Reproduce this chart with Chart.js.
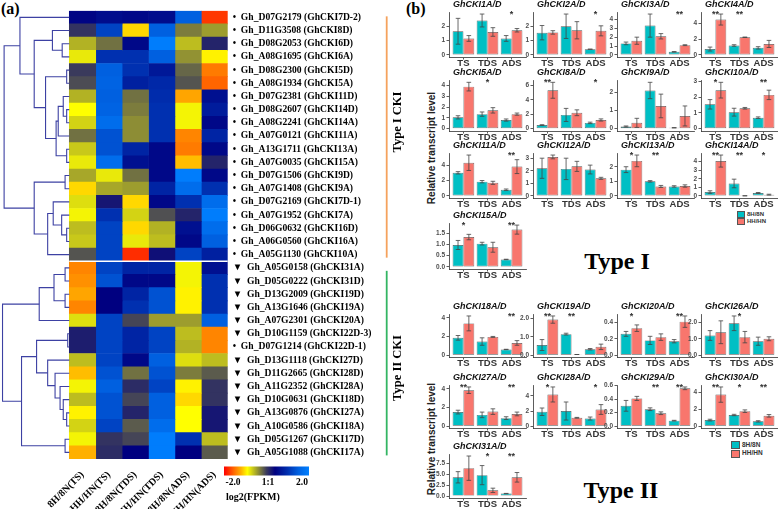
<!DOCTYPE html>
<html>
<head>
<meta charset="utf-8">
<script src="https://cdn.jsdelivr.net/npm/chart.js"></script>
<style>
  body { margin: 0; background: #fff; }
  #wrap { position: relative; width: 778px; height: 509px; overflow: hidden; background: #fff; }
  canvas { position: absolute; }
  .txt { position: absolute; white-space: nowrap; color: #000; }
  .serif { font-family: 'Liberation Serif', 'Times New Roman', serif; font-weight: bold; }
  .sans { font-family: 'Liberation Sans', Arial, sans-serif; font-weight: bold; }
  .ylab { transform: translate(-50%, -50%) rotate(-90deg); font-size: 10px; color: #222; }
  .big { transform: translate(-50%, -50%); font-size: 24px; }
  .key { position: absolute; font-family: 'Liberation Sans', Arial, sans-serif; font-weight: bold; color: #333; }
  .key span { display: inline-block; vertical-align: middle; border: 0.5px solid #555; margin-right: 2px; }
</style>
</head>
<body>
<div id="wrap">
  <div class="txt serif" style="left:1px;top:0px;font-size:16px;">(a)</div>
  <div class="txt serif" style="left:406px;top:0px;font-size:16px;">(b)</div>
  <div class="txt sans ylab" style="left:431px;top:148px;">Relative transcript level</div>
  <div class="txt sans ylab" style="left:431px;top:439px;">Relative transcript level</div>
  <div class="txt serif big" style="left:617px;top:261px;">Type I</div>
  <div class="txt serif big" style="left:621px;top:490px;">Type II</div>
  <div class="key" style="left:737px;top:211px;font-size:6px;line-height:6.5px;">
    <div><span style="width:6px;height:5px;background:#00BFC4"></span>8H/8N</div>
    <div><span style="width:6px;height:5px;background:#F8766D"></span>HH/HN</div>
  </div>
  <div class="key" style="left:731px;top:441px;font-size:6.5px;line-height:7px;">
    <div><span style="width:7px;height:6px;background:#00BFC4"></span>8H/8N</div>
    <div><span style="width:7px;height:6px;background:#F8766D"></span>HH/HN</div>
  </div>
  <canvas id="heat" width="410" height="509" style="left:0;top:0"></canvas>
</div>
<script>
const FONT_SERIF = "'Liberation Serif', 'Times New Roman', serif";
const FONT_SANS = "'Liberation Sans', Arial, sans-serif";

// ---------- (a) heatmap ----------
const sampleNames = ['8H/8N(TS)', 'HH/HN(TS)', '8H/8N(TDS)', 'HH/HN(TDS)', '8H/8N(ADS)', 'HH/HN(ADS)'];

const geneIds = [
  'Gh_D07G2179 (GhCKI7D-2)', 'Gh_D11G3508 (GhCKI8D)', 'Gh_D08G2053 (GhCKI6D)', 'Gh_A08G1695 (GhCKI6A)',
  'Gh_D08G2300 (GhCKI5D)', 'Gh_A08G1934 (GhCKI5A)', 'Gh_D07G2381 (GhCKI11D)', 'Gh_D08G2607 (GhCKI14D)',
  'Gh_A08G2241 (GhCKI14A)', 'Gh_A07G0121 (GhCKI11A)', 'Gh_A13G1711 (GhCKI13A)', 'Gh_A07G0035 (GhCKI15A)',
  'Gh_D07G1506 (GhCKI9D)', 'Gh_A07G1408 (GhCKI9A)', 'Gh_D07G2169 (GhCKI7D-1)', 'Gh_A07G1952 (GhCKI7A)',
  'Gh_D06G0632 (GhCKI16D)', 'Gh_A06G0560 (GhCKI16A)', 'Gh_A05G1130 (GhCKI10A)',
  'Gh_A05G0158 (GhCKI31A)', 'Gh_D05G0222 (GhCKI31D)', 'Gh_D13G2009 (GhCKI19D)', 'Gh_A13G1646 (GhCKI19A)',
  'Gh_A07G2301 (GhCKI20A)', 'Gh_D10G1159 (GhCKI22D-3)', 'Gh_D07G1214 (GhCKI22D-1)', 'Gh_D13G1118 (GhCKI27D)',
  'Gh_D11G2665 (GhCKI28D)', 'Gh_A11G2352 (GhCKI28A)', 'Gh_D10G0631 (GhCKI18D)', 'Gh_A13G0876 (GhCKI27A)',
  'Gh_A10G0586 (GhCKI18A)', 'Gh_D05G1267 (GhCKI17D)', 'Gh_A05G1088 (GhCKI17A)'
];

const geneMarks = [
  '•', '•', '•', '•', '•', '•', '•', '•', '•', '•', '•', '•', '•', '•', '•', '•', '•', '•', '•',
  '▼', '▼', '▼', '▼', '▼', '▼', '•', '▼', '▼', '▼', '▼', '▼', '▼', '▼', '▼'
];

const typeICount = 19;

// log2 ratio per gene, columns in sampleNames order
const log2Values = [
  [0.45, 0.55, 0.5, 0.55, 1.5, -1.75],
  [0.05, 1.2, -1.05, 1.5, -0.3, -0.45],
  [-0.55, -0.25, 0.5, 1.95, -0.6, 0.15],
  [-0.8, 1.0, 1.0, 1.5, -0.4, -0.95],
  [0.0, 1.5, 1.0, 0.7, -0.2, -1.45],
  [-0.08, 1.55, 0.8, 0.9, -0.12, -1.55],
  [-0.55, 1.5, -0.25, 0.95, -1.25, 0.6],
  [-0.9, 1.55, -0.3, 1.0, -0.85, 0.75],
  [-0.7, 1.7, -0.38, 1.0, -0.85, 0.5],
  [-0.25, 1.35, -0.38, 1.0, -1.4, 0.85],
  [-0.65, 1.35, 0.85, 0.5, -1.45, 0.5],
  [-0.8, 1.7, 0.6, 0.5, -1.15, 0.15],
  [-0.5, -0.8, -0.25, 0.5, 1.95, 0.5],
  [-1.05, -0.5, -0.45, 0.85, 1.7, 1.0],
  [-0.75, 0.25, -1.05, 0.5, 1.0, 1.7],
  [-0.85, 1.0, -0.7, -0.1, 0.15, 1.95],
  [-0.6, 1.2, -1.05, -0.55, 0.6, 1.7],
  [-0.65, 1.2, -0.8, -0.6, 0.5, 1.5],
  [-0.12, 1.2, -1.8, 0.3, 1.2, 0.8],
  [-1.4, 1.2, 0.85, 0.85, -0.85, 0.6],
  [-1.35, 1.35, 0.5, 0.5, -0.85, 1.0],
  [-1.25, 0.4, 0.85, 1.35, -0.95, 1.0],
  [-1.4, 0.4, 1.0, 1.35, -0.95, 1.0],
  [-0.75, 1.2, -0.05, -0.45, -0.45, 1.5],
  [0.2, 1.2, 0.85, 1.2, -0.6, -1.4],
  [0.2, 1.2, 0.85, 1.2, -0.55, -1.4],
  [-0.6, 1.2, 0.5, 1.5, -0.75, -0.6],
  [-1.15, 1.35, -0.25, 1.35, -0.3, -0.15],
  [-0.85, 1.5, 0.1, 1.2, -0.95, 0.05],
  [-0.6, 1.35, -0.05, 1.5, -1.05, 0.05],
  [-0.95, 1.35, 0.15, 1.5, -0.9, 0.25],
  [-0.7, 1.2, -0.15, 1.7, -0.9, 0.25],
  [-0.85, 0.05, -0.05, 1.95, 1.0, -0.6],
  [-1.2, 0.1, 0.4, 1.95, 0.4, -0.15]
];

const colorStops = [
  [-2.0, '#ff0000'], [-1.5, '#ff7000'], [-1.2, '#ffb000'], [-0.9, '#ffff00'],
  [0.0, '#3a3a5c'], [0.4, '#000080'], [1.0, '#0030b0'], [1.5, '#0060e0'], [2.0, '#0080ff']
];

// row clustering: [child, child, height]; leaves are row indices, merge k gets id 34 + k
const dendroMerges = [
  [2, 3, 0.27], [1, 34, 0.64], [4, 5, 0.10], [7, 8, 0.10], [6, 37, 0.23], [38, 9, 0.42],
  [10, 11, 0.10], [39, 40, 0.50], [36, 41, 0.90], [35, 42, 1.33], [0, 43, 1.87],
  [12, 13, 0.16], [16, 17, 0.10], [15, 46, 0.29], [14, 47, 0.61], [48, 18, 0.82], [45, 49, 1.33],
  [44, 50, 2.47],
  [19, 20, 0.16], [21, 22, 0.16], [52, 53, 0.58], [54, 23, 1.14], [24, 25, 0.06],
  [30, 31, 0.10], [29, 57, 0.23], [28, 58, 0.35], [27, 59, 0.54], [26, 60, 0.82],
  [56, 61, 1.24], [32, 33, 0.16], [62, 63, 1.81], [55, 64, 2.53]
];

// ---------- (b) qRT-PCR ----------
const stageNames = ['TS', 'TDS', 'ADS'];

const typeIGenes = ['GhCKI1A/D', 'GhCKI2A/D', 'GhCKI3A/D', 'GhCKI4A/D', 'GhCKI5A/D', 'GhCKI8A/D', 'GhCKI9A/D',
  'GhCKI10A/D', 'GhCKI11A/D', 'GhCKI12A/D', 'GhCKI13A/D', 'GhCKI14A/D', 'GhCKI15A/D'];
const typeIBnMean = [[1.65, 2.4, 1.15], [1.55, 2.0, 0.4], [1.3, 3.3, 0.35], [0.75, 1.2, 0.9], [1.05, 1.35, 0.8],
  [0.5, 1.9, 0.8], [0.12, 2.1, 0.05], [1.55, 1.05, 0.7], [3.0, 1.85, 0.8], [2.2, 2.15, 2.1], [1.8, 1.0, 0.65],
  [0.45, 1.45, 0.35], [0.97, 1.03, 0.33]];
const typeIBnErr = [[0.9, 0.45, 0.2], [0.5, 0.85, 0.0], [0.15, 1.3, 0.03], [0.25, 0.1, 0.15], [0.15, 0.2, 0.1],
  [0.05, 0.9, 0.1], [0.03, 0.45, 0.01], [0.3, 0.25, 0.05], [0.15, 0.15, 0.1], [0.8, 0.85, 0.35], [0.2, 0.05, 0.05],
  [0.15, 0.5, 0.05], [0.2, 0.06, 0.01]];
const typeIHhMean = [[1.15, 1.6, 1.72], [1.57, 1.72, 1.68], [1.6, 2.1, 1.1], [4.5, 2.25, 1.4], [3.9, 1.7, 1.35],
  [5.3, 2.2, 1.2], [0.32, 1.25, 0.7], [2.45, 1.3, 2.15], [4.3, 1.7, 3.8], [3.1, 2.35, 1.4], [2.4, 0.65, 0.68],
  [4.05, 0.02, 0.15], [1.32, 0.87, 1.65]];
const typeIHhErr = [[0.2, 0.3, 0.12], [0.12, 0.6, 0.35], [0.4, 0.3, 0.05], [0.7, 0.03, 0.45], [0.4, 0.25, 0.1],
  [1.1, 0.4, 0.15], [0.25, 0.65, 0.55], [0.5, 0.05, 0.3], [1.0, 0.2, 0.9], [0.15, 0.4, 0.08], [0.4, 0.07, 0.08],
  [0.7, 0.0, 0.05], [0.12, 0.22, 0.2]];
const typeIMarks = [['', '', '*'], ['', '', '*'], ['', '', '**'], ['**', '**', ''], ['', '*', ''], ['**', '', '*'],
  ['', '', ''], ['*', '', '**'], ['', '', '**'], ['', '', ''], ['*', '**', ''], ['**', '**', '*'], ['*', '', '**']];
const typeISteps = [1, 1, 1, 1, 1, 2, 1, 1, 1, 1, 1, 1, 0.5];
const typeIDecimals = [0, 0, 0, 0, 0, 0, 0, 0, 0, 0, 0, 0, 1];

const typeIIGenes = ['GhCKI18A/D', 'GhCKI19A/D', 'GhCKI20A/D', 'GhCKI26A/D', 'GhCKI27A/D', 'GhCKI28A/D',
  'GhCKI29A/D', 'GhCKI30A/D', 'GhCKI31A/D'];
const typeIIBnMean = [[1.85, 1.45, 0.6], [0.55, 1.15, 0.32], [0.26, 0.18, 0.17], [1.2, 1.95, 0.85], [1.5, 1.2, 0.85],
  [1.9, 2.0, 1.0], [0.3, 0.25, 0.08], [0.7, 1.3, 0.55], [4.3, 4.8, 0.55]];
const typeIIBnErr = [[0.25, 0.4, 0.02], [0.3, 0.05, 0.04], [0.03, 0.05, 0.02], [0.3, 0.45, 0.25], [0.2, 0.3, 0.15],
  [0.5, 1.2, 0.2], [0.08, 0.02, 0.005], [0.1, 0.08, 0.08], [1.3, 2.2, 0.05]];
const typeIIHhMean = [[3.4, 1.95, 1.3], [1.95, 0.03, 0.45], [0.33, 0.22, 0.41], [1.4, 1.1, 1.0], [3.85, 1.55, 1.3],
  [4.2, 1.1, 2.2], [0.41, 0.19, 0.56], [3.7, 1.75, 1.2], [6.4, 1.3, 4.3]];
const typeIIHhErr = [[0.8, 0.05, 0.25], [0.2, 0.0, 0.15], [0.04, 0.04, 0.07], [0.7, 0.35, 0.12], [0.35, 0.3, 0.2],
  [1.0, 0.05, 0.65], [0.03, 0.02, 0.02], [0.9, 0.15, 0.15], [2.8, 0.5, 1.1]];
const typeIIMarks = [['', '', '**'], ['**', '**', ''], ['*', '', '**'], ['', '*', ''], ['**', '', '**'], ['*', '', '*'],
  ['', '**', '**'], ['**', '*', '**'], ['', '*', '**']];
const typeIISteps = [1, 0.5, 0.1, 0.5, 1, 1, 0.2, 1, 2.5];
const typeIIDecimals = [0, 1, 1, 1, 0, 0, 1, 0, 1];

// ---------- helpers ----------
function hexToRgb(h) {
  const n = parseInt(h.slice(1), 16);
  return [n >> 16, (n >> 8) & 255, n & 255];
}
function heatColor(v) {
  v = Math.max(-2, Math.min(2, v));
  for (let i = 1; i < colorStops.length; i++) {
    const [v1, c1] = colorStops[i];
    if (v <= v1) {
      const [v0, c0] = colorStops[i - 1];
      const t = (v - v0) / (v1 - v0);
      const a = hexToRgb(c0), b = hexToRgb(c1);
      return 'rgb(' + a.map((x, k) => Math.round(x + (b[k] - x) * t)).join(',') + ')';
    }
  }
  return colorStops[colorStops.length - 1][1];
}

// dendrogram, row separator, brackets and colour key
const heatExtras = {
  id: 'heatExtras',
  afterDatasetsDraw(chart) {
    const { ctx, scales: { x, y } } = chart;
    ctx.save();
    const ySep = (y.getPixelForValue(typeICount - 1) + y.getPixelForValue(typeICount)) / 2;
    ctx.strokeStyle = '#fff';
    ctx.lineWidth = 1.6;
    ctx.beginPath();
    ctx.moveTo(x.getPixelForValue(0), ySep);
    ctx.lineTo(x.getPixelForValue(sampleNames.length), ySep);
    ctx.stroke();

    const nodes = geneIds.map((_, i) => ({ h: 0, r: i }));
    ctx.strokeStyle = '#3d41a3';
    ctx.lineWidth = 1.1;
    dendroMerges.forEach(([p, q, h]) => {
      const a = nodes[p], b = nodes[q];
      nodes.push({ h, r: (a.r + b.r) / 2 });
      ctx.beginPath();
      ctx.moveTo(x.getPixelForValue(-a.h), y.getPixelForValue(a.r));
      ctx.lineTo(x.getPixelForValue(-h), y.getPixelForValue(a.r));
      ctx.lineTo(x.getPixelForValue(-h), y.getPixelForValue(b.r));
      ctx.lineTo(x.getPixelForValue(-b.h), y.getPixelForValue(b.r));
      ctx.stroke();
    });
    ctx.restore();
  },
  afterDraw(chart) {
    const { ctx, chartArea: area, scales: { y } } = chart;
    const last = geneIds.length - 1;
    const bx = area.right + 159;
    ctx.save();
    ctx.lineWidth = 1.8;
    ctx.strokeStyle = '#f5a25d';
    ctx.beginPath();
    ctx.moveTo(bx, y.getPixelForValue(0) - 1);
    ctx.lineTo(bx, y.getPixelForValue(typeICount - 1) + 3);
    ctx.stroke();
    ctx.strokeStyle = '#33b563';
    ctx.beginPath();
    ctx.moveTo(bx, y.getPixelForValue(typeICount) + 3);
    ctx.lineTo(bx, y.getPixelForValue(last) + 3);
    ctx.stroke();

    ctx.fillStyle = '#000';
    ctx.font = 'bold 12.5px ' + FONT_SERIF;
    ctx.textAlign = 'center';
    ctx.textBaseline = 'middle';
    [['Type I CKI', 122], ['Type II CKI', 368]].forEach(([t, cy]) => {
      ctx.save();
      ctx.translate(area.right + 170.5, cy);
      ctx.rotate(-Math.PI / 2);
      ctx.fillText(t, 0, 0);
      ctx.restore();
    });

    // colour key
    const kx = area.right - 3.7, ky = area.bottom + 7.5, kw = 85, kh = 9;
    const g = ctx.createLinearGradient(kx, 0, kx + kw, 0);
    colorStops.forEach(([v, c]) => g.addColorStop((v + 2) / 4, c));
    ctx.fillStyle = g;
    ctx.fillRect(kx, ky, kw, kh);
    ctx.fillStyle = '#000';
    ctx.font = 'bold 9.5px ' + FONT_SERIF;
    ctx.fillText('-2.0', kx + 9, ky + 16.5);
    ctx.fillText('1:1', kx + 44, ky + 16.5);
    ctx.fillText('2.0', kx + 78, ky + 16.5);
    ctx.font = 'bold 10px ' + FONT_SERIF;
    ctx.textAlign = 'left';
    ctx.fillText('log2(FPKM)', kx + 2, ky + 31);
    ctx.restore();
  }
};

new Chart(document.getElementById('heat'), {
  type: 'bar',
  data: {
    labels: geneIds.map((g, i) => geneMarks[i] + '\u2002' + g),
    datasets: sampleNames.map((name, j) => ({
      label: name,
      data: geneIds.map(() => 1),
      backgroundColor: log2Values.map(row => heatColor(row[j])),
      borderWidth: 0,
      barPercentage: 1,
      categoryPercentage: 1
    }))
  },
  options: {
    indexAxis: 'y',
    responsive: false,
    animation: false,
    events: [],
    layout: { padding: { left: 2, top: 9, right: 0, bottom: 0 } },
    plugins: { legend: { display: false }, tooltip: { enabled: false } },
    scales: {
      x: {
        type: 'linear', stacked: true, min: -2.55, max: sampleNames.length,
        grid: { display: false }, border: { display: false },
        afterBuildTicks: s => { s.ticks = sampleNames.map((_, i) => ({ value: i + 0.5 })); },
        ticks: {
          autoSkip: false, minRotation: 45, maxRotation: 45, padding: 2,
          color: '#000', font: { family: FONT_SERIF, weight: 'bold', size: 10 },
          callback: (v, i) => sampleNames[i]
        },
        afterFit: s => { s.height = 50; }
      },
      y: {
        type: 'category', position: 'right', stacked: true, offset: true,
        grid: { display: false, drawTicks: false }, border: { display: false },
        ticks: { autoSkip: false, padding: 5, color: '#000', font: { family: FONT_SERIF, weight: 'bold', size: 9.6 } },
        afterFit: s => { s.width = 182.3; }
      }
    }
  },
  plugins: [heatExtras]
});

// ---------- bar panels ----------
const errorBars = {
  id: 'errorBars',
  afterDatasetsDraw(chart) {
    const { ctx, scales: { y } } = chart;
    ctx.save();
    ctx.strokeStyle = '#444';
    ctx.lineWidth = 0.8;
    chart.data.datasets.forEach((ds, di) => {
      chart.getDatasetMeta(di).data.forEach((bar, i) => {
        const m = ds.data[i].y, e = ds.errors[i];
        const y0 = y.getPixelForValue(m - e), y1 = y.getPixelForValue(m + e);
        ctx.beginPath();
        ctx.moveTo(bar.x, y0); ctx.lineTo(bar.x, y1);
        ctx.moveTo(bar.x - 2.3, y0); ctx.lineTo(bar.x + 2.3, y0);
        ctx.moveTo(bar.x - 2.3, y1); ctx.lineTo(bar.x + 2.3, y1);
        ctx.stroke();
      });
    });
    ctx.restore();
  }
};

const panelText = {
  id: 'panelText',
  afterDraw(chart, args, opts) {
    const { ctx, chartArea: area, scales: { x } } = chart;
    ctx.save();
    ctx.fillStyle = '#111';
    ctx.font = 'italic bold 9px ' + FONT_SANS;
    ctx.textAlign = 'left';
    ctx.textBaseline = 'middle';
    ctx.fillText(opts.title, area.left + 4, area.top - 7);
    ctx.fillStyle = '#333';
    ctx.font = 'bold 9px ' + FONT_SANS;
    ctx.textAlign = 'center';
    ctx.textBaseline = 'top';
    opts.marks.forEach((m, i) => {
      if (m) ctx.fillText(m, x.getPixelForValue(i + 1), area.top - 1.5);
    });
    ctx.restore();
  }
};

function barPanel(gene, bn, bnE, hh, hhE, marks, step, dec, axisX, top, bottom) {
  const padTop = 14, axisW = 24, xH = 16, plotW = 77;
  const cv = document.createElement('canvas');
  cv.width = axisW + plotW + 1;
  cv.height = padTop + (bottom - top) + xH;
  cv.style.left = (axisX - axisW) + 'px';
  cv.style.top = (top - padTop) + 'px';
  document.getElementById('wrap').appendChild(cv);

  const peak = Math.max(...bn.map((v, i) => v + bnE[i]), ...hh.map((v, i) => v + hhE[i]));
  const axisLine = { display: true, color: '#333', width: 0.8 };
  const tickMarks = { display: true, drawOnChartArea: false, drawTicks: true, tickLength: 2.5, color: '#333', lineWidth: 0.8, offset: false };
  const bar = (label, vals, errs, color) => ({
    label, errors: errs,
    data: vals.map((v, i) => ({ x: i + 1, y: v })),
    backgroundColor: color, borderColor: '#505050', borderWidth: 0.7, borderSkipped: false,
    categoryPercentage: 0.9, barPercentage: 1
  });

  new Chart(cv, {
    type: 'bar',
    data: { datasets: [bar('8H/8N', bn, bnE, '#00BFC4'), bar('HH/HN', hh, hhE, '#F8766D')] },
    options: {
      responsive: false,
      animation: false,
      events: [],
      layout: { padding: { top: padTop, right: 1, left: 0, bottom: 0 } },
      plugins: { legend: { display: false }, tooltip: { enabled: false }, panelText: { title: gene, marks } },
      scales: {
        x: {
          type: 'linear', min: 0.4, max: 3.6, offset: false,
          grid: tickMarks, border: axisLine,
          afterBuildTicks: s => { s.ticks = stageNames.map((_, i) => ({ value: i + 1 })); },
          ticks: {
            autoSkip: false, maxRotation: 0, padding: -1.5, color: '#333',
            font: { family: FONT_SANS, weight: 'bold', size: 9.5 },
            callback: v => stageNames[Math.round(v) - 1]
          },
          afterFit: s => { s.height = xH; }
        },
        y: {
          min: -0.05 * peak, max: 1.05 * peak,
          grid: tickMarks, border: axisLine,
          afterBuildTicks: s => {
            const t = [];
            for (let v = 0; v <= 1.05 * peak + 1e-9; v += step) t.push({ value: v });
            s.ticks = t;
          },
          ticks: {
            padding: 1.5, color: '#4d4d4d',
            font: { family: FONT_SANS, weight: 'bold', size: 6.5 },
            callback: v => v.toFixed(dec)
          },
          afterFit: s => { s.width = axisW; }
        }
      }
    },
    plugins: [errorBars, panelText]
  });
}

const colAxisX = [449, 533, 617, 701];
const typeIRows = [[12, 57], [80, 131], [153, 198], [223, 269]];
const typeIIRows = [[314, 357], [385, 428], [454, 498]];

typeIGenes.forEach((g, k) => {
  const [top, bottom] = typeIRows[Math.floor(k / 4)];
  barPanel(g, typeIBnMean[k], typeIBnErr[k], typeIHhMean[k], typeIHhErr[k], typeIMarks[k],
    typeISteps[k], typeIDecimals[k], colAxisX[k % 4], top, bottom);
});
typeIIGenes.forEach((g, k) => {
  const [top, bottom] = typeIIRows[Math.floor(k / 4)];
  barPanel(g, typeIIBnMean[k], typeIIBnErr[k], typeIIHhMean[k], typeIIHhErr[k], typeIIMarks[k],
    typeIISteps[k], typeIIDecimals[k], colAxisX[k % 4], top, bottom);
});
</script>
</body>
</html>
